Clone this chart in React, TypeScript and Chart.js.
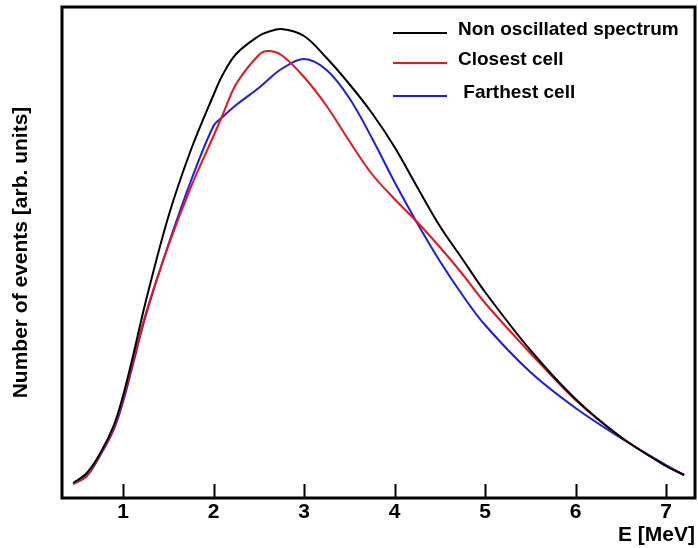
import React, { useEffect, useRef } from "react";
import { Chart, registerables } from "chart.js";

Chart.register(...registerables);

// Energy grid [MeV]
const energies = [0.45, 0.6, 0.75, 0.9, 1.0, 1.1, 1.25, 1.5, 1.75, 2.0, 2.1, 2.25, 2.5, 2.6, 2.75, 3.0, 3.25, 3.5, 3.75, 4.0, 4.25, 4.5, 4.75, 5.0, 5.5, 6.0, 6.5, 7.0, 7.2];
// Number of events [arb. units]
const nonOscillated = [15, 25, 45, 73, 102, 138, 196, 281, 348, 403, 423, 444, 462, 466, 469, 462, 440, 414, 385, 351, 311, 272, 239, 206, 148, 99, 61, 32, 23];
const closestCell = [14, 23, 44, 71, 99, 133, 184, 252, 311, 362, 383, 414, 443, 447, 443, 421, 392, 357, 324, 299, 276, 251, 224, 195, 145, 98, 61, 32, 23];
const farthestCell = [14, 22, 43, 69, 96, 130, 182, 253, 317, 372, 381, 393, 410, 418, 429, 439, 428, 400, 360, 316, 275, 237, 203, 173, 126, 90, 60, 33, 23];
const xTickValues = [1, 2, 3, 4, 5, 6, 7];
const seriesLabels = ["Non oscillated spectrum", "Closest cell", " Farthest cell"];
const seriesColors = ["#000000", "#e8161c", "#1c1ce6"];

const FONT = "'Liberation Sans', Arial, Helvetica, sans-serif";

const framePlugin = {
  id: "frameAndTicks",
  afterDatasetsDraw(chart: any) {
    const { ctx, chartArea } = chart;
    const xs = chart.scales.x;
    ctx.save();
    // inner tick marks
    ctx.strokeStyle = "#000";
    ctx.lineWidth = 2;
    xs.ticks.forEach((t: any) => {
      const px = Math.round(xs.getPixelForValue(t.value)) + 0.5;
      ctx.beginPath();
      ctx.moveTo(px, chartArea.bottom);
      ctx.lineTo(px, chartArea.bottom - 14);
      ctx.stroke();
    });
    // frame
    ctx.lineWidth = 3;
    ctx.strokeRect(chartArea.left, chartArea.top, chartArea.right - chartArea.left, chartArea.bottom - chartArea.top);
    // legend
    const x0 = chartArea.right - 302;
    const rows = [26, 56, 89];
    chart.data.datasets.forEach((ds: any, i: number) => {
      const y = chartArea.top + rows[i];
      ctx.strokeStyle = ds.borderColor;
      ctx.lineWidth = 2;
      ctx.beginPath();
      ctx.moveTo(x0, y);
      ctx.lineTo(x0 + 54, y);
      ctx.stroke();
      ctx.fillStyle = "#000";
      ctx.font = `bold 19px ${FONT}`;
      ctx.textBaseline = "middle";
      ctx.textAlign = "left";
      ctx.fillText(ds.label, x0 + 65, y - 3);
    });
    ctx.restore();
  },
};

export default function App() {
  const ref = useRef<HTMLCanvasElement>(null);
  useEffect(() => {
    if (!ref.current) return;
    const mk = (vals: number[]) => energies.map((e, i) => ({ x: e, y: vals[i] }));
    const chart = new Chart(ref.current, {
      type: "line",
      data: {
        datasets: [nonOscillated, closestCell, farthestCell].map((vals, i) => ({
          label: seriesLabels[i],
          data: mk(vals),
          borderColor: seriesColors[i],
          backgroundColor: seriesColors[i],
          borderWidth: 2,
          pointRadius: 0,
          tension: 0.35,
          fill: false,
        })),
      },
      options: {
        responsive: false,
        animation: false,
        layout: { padding: { left: 0, top: 7, right: 3, bottom: 0 } },
        plugins: { legend: { display: false }, tooltip: { enabled: false } },
        scales: {
          x: {
            type: "linear",
            min: 0.326,
            max: 7.32,
            grid: { display: false, drawTicks: false },
            border: { display: false },
            afterBuildTicks: (s: any) => {
              s.ticks = xTickValues.map((v) => ({ value: v }));
            },
            afterFit: (s: any) => {
              s.height = 50;
            },
            ticks: {
              color: "#000",
              font: { family: FONT, size: 21, weight: "bold" },
              padding: 2,
              maxRotation: 0,
              autoSkip: false,
            },
            title: {
              display: true,
              text: "E [MeV]",
              align: "end",
              color: "#000",
              font: { family: FONT, size: 21, weight: "bold" },
              padding: { top: 0, bottom: 0 },
            },
          },
          y: {
            type: "linear",
            min: 0,
            max: 491,
            grid: { display: false, drawTicks: false },
            border: { display: false },
            ticks: { display: false },
            afterFit: (s: any) => {
              s.width = 62;
            },
            title: {
              display: true,
              text: "Number of events [arb. units]",
              color: "#000",
              font: { family: FONT, size: 21, weight: "bold" },
              padding: { top: 9, bottom: 0 },
            },
          },
        },
      },
      plugins: [framePlugin],
    });
    return () => chart.destroy();
  }, []);
  return (
    <div style={{ position: "absolute", left: 0, top: 0, width: 698, height: 548, background: "#fff" }}>
      <canvas ref={ref} width={698} height={548} style={{ display: "block" }} />
    </div>
  );
}
